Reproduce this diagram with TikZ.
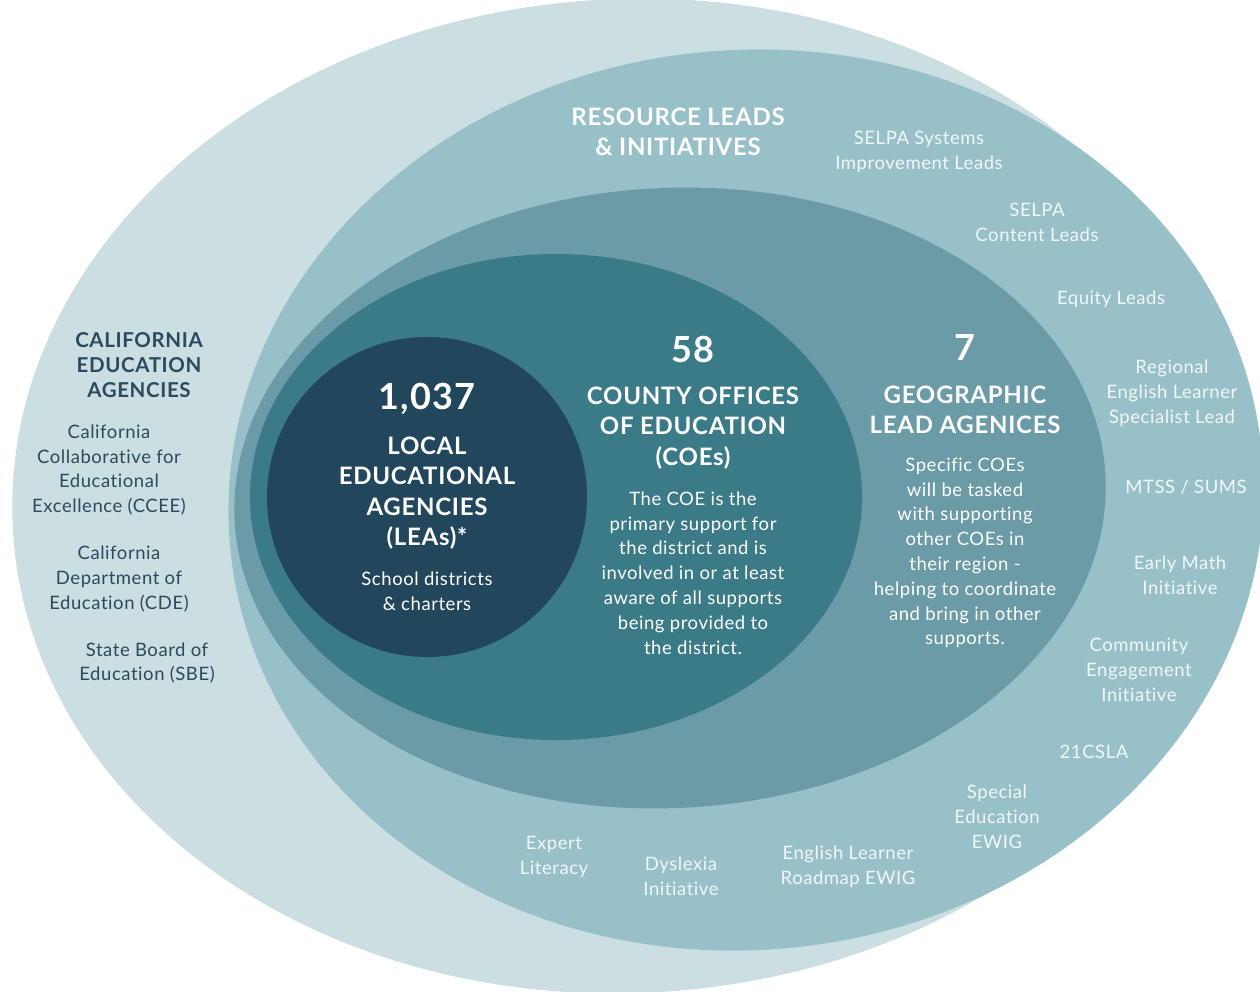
\documentclass[tikz,border=0pt]{standalone}
\usepackage{fontspec}
\setmainfont{Lato}[LetterSpace=3, Ligatures=NoCommon]
\definecolor{cOut}{HTML}{CBDEE2}
\definecolor{cRes}{HTML}{98C0C8}
\definecolor{cGeo}{HTML}{6A9BA6}
\definecolor{cCoe}{HTML}{3B7B88}
\definecolor{cLea}{HTML}{22475D}
\definecolor{cNavy}{HTML}{2A4A5E}
\definecolor{cSoft}{HTML}{F2F7F8}
\tikzset{
  small/.style={align=center, inner sep=0pt, font=\fontsize{18.5}{24.8}\selectfont},
  soft/.style={small, text=cSoft},
  navy/.style={small, text=cNavy},
  bodytxt/.style={small, text=white},
  head/.style={align=center, inner sep=0pt, text=white, font=\bfseries\fontsize{24}{30.5}\selectfont},
  navyhead/.style={align=center, inner sep=0pt, text=cNavy, font=\bfseries\fontsize{20.5}{24.8}\selectfont},
  bignum/.style={inner sep=0pt, text=white, font=\bfseries\fontsize{36}{40}\selectfont},
}
\begin{document}
\begin{tikzpicture}[x=1pt,y=-1pt]
\useasboundingbox (0,0) rectangle (1260,991);
\fill[white] (0,0) rectangle (1260,991);
\clip (0,0) rectangle (1260,991);
% nested shapes
\fill[cOut, rotate around={3:(628,496)}] (628,496) ellipse [x radius=616pt, y radius=497pt];
\fill[cRes, rotate around={5:(746,500)}] (746,500) ellipse [x radius=518pt, y radius=450pt];
\fill[cGeo, rotate around={3:(670,498)}] (670,498) ellipse [x radius=436pt, y radius=310pt];
\fill[cCoe] (556,497) ellipse [x radius=306pt, y radius=243pt];
\fill[cLea] (427,497) circle [radius=160pt];
% inner circle text
\node[bignum] (leanum) at (427,399) {1,037};
\node[head] (leahead) at (427,493) {LOCAL\\EDUCATIONAL\\AGENCIES\\(LEAs)*};
\node[bodytxt] (leabody) at (427,591) {School districts\\\& charters};
% COE text
\node[bignum] (coenum) at (693,349) {58};
\node[head] (coehead) at (693,428) {COUNTY OFFICES\\OF EDUCATION\\(COEs)};
\node[bodytxt] (coebody) at (693,573) {The COE is the\\primary support for\\the district and is\\involved in or at least\\aware of all supports\\being provided to\\the district.};
% Geographic text
\node[bignum] (geonum) at (965,347) {7};
\node[head] (geohead) at (965,410) {GEOGRAPHIC\\LEAD AGENICES};
\node[bodytxt] (geobody) at (965,553) {Specific COEs\\will be tasked\\with supporting\\other COEs in\\their region -\\helping to coordinate\\and bring in other\\supports.};
% Resource leads ring
\node[head] (reshead) at (678,132) {RESOURCE LEADS\\\& INITIATIVES};
\node[soft] (selsys) at (919,152) {SELPA Systems\\Improvement Leads};
\node[soft] (selcon) at (1037,222) {SELPA\\Content Leads};
\node[soft] (equity) at (1111,299) {Equity Leads};
\node[soft] (regel) at (1172,393) {Regional\\English Learner\\Specialist Lead};
\node[soft] (mtss) at (1186,487) {MTSS / SUMS};
\node[soft] (emath) at (1180,575) {Early Math\\Initiative};
\node[soft] (community) at (1139,670) {Community\\Engagement\\Initiative};
\node[soft] (csla) at (1094,752) {21CSLA};
\node[soft] (special) at (997,817) {Special\\Education\\EWIG};
\node[soft] (elroad) at (848,867) {English Learner\\Roadmap EWIG};
\node[soft] (dyslexia) at (681,876) {Dyslexia\\Initiative};
\node[soft] (expert) at (554,857) {Expert\\Literacy};
% California agencies
\node[navyhead] (calhead) at (139,365) {CALIFORNIA\\EDUCATION\\AGENCIES};
\node[navy] (ccee) at (109,470) {California\\Collaborative for\\Educational\\Excellence (CCEE)};
\node[navy] (cde) at (119,579) {California\\Department of\\Education (CDE)};
\node[navy] (sbe) at (147,663) {State Board of\\Education (SBE)};
\end{tikzpicture}
\end{document}
